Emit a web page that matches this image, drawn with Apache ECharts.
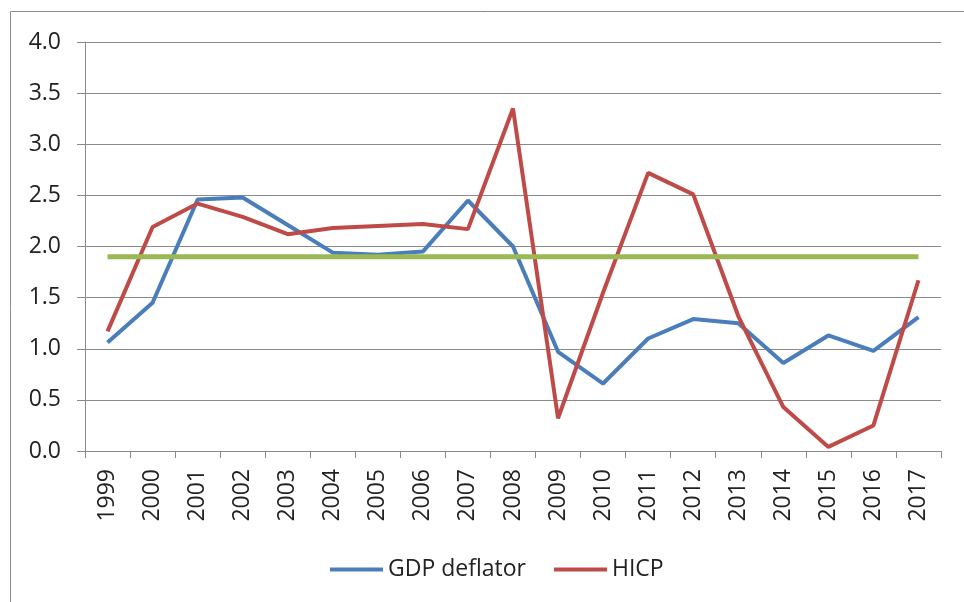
<!DOCTYPE html>
<html>
<head>
<meta charset="utf-8">
<script src="https://cdn.jsdelivr.net/npm/echarts@6/dist/echarts.min.js"></script>
<style>
  html, body { margin: 0; padding: 0; background: #fff; }
  #chart { width: 964px; height: 602px; }
</style>
</head>
<body>
<div id="chart"></div>
<script>
// Annual inflation measures, %
const years = ['1999','2000','2001','2002','2003','2004','2005','2006','2007','2008',
               '2009','2010','2011','2012','2013','2014','2015','2016','2017'];
const gdpDeflator = [1.06, 1.45, 2.46, 2.48, 2.21, 1.94, 1.92, 1.95, 2.45, 2.00,
                     0.97, 0.66, 1.10, 1.29, 1.25, 0.86, 1.13, 0.98, 1.31];
const hicp = [1.17, 2.19, 2.42, 2.29, 2.12, 2.18, 2.20, 2.22, 2.17, 3.35,
              0.32, 1.55, 2.72, 2.51, 1.32, 0.43, 0.04, 0.25, 1.67];
const targetLevel = 1.9;
const target = years.map(() => targetLevel);

const yTicks = { min: 0, max: 4, interval: 0.5 };

const axisGray = '#8a8a8a';
const labelFont = "'Open Sans', 'Noto Sans', sans-serif";

const chart = echarts.init(document.getElementById('chart'), null, { renderer: 'canvas' });

chart.setOption({
  animation: false,
  backgroundColor: '#ffffff',
  graphic: [{
    type: 'rect',
    shape: { x: 10.5, y: 11.5, width: 1000, height: 1000 },
    style: { fill: 'none', stroke: '#8c8c8c', lineWidth: 1 },
    silent: true
  }],
  grid: { left: 85, right: 23, top: 42, bottom: 151, containLabel: false },
  legend: {
    data: ['GDP deflator', 'HICP'],
    left: 325,
    top: 553,
    icon: 'rect',
    itemWidth: 53,
    itemHeight: 4,
    itemGap: 28,
    textStyle: {
      fontFamily: "'Liberation Sans Narrow', 'Open Sans', sans-serif",
      fontSize: 23,
      color: '#222'
    }
  },
  xAxis: {
    type: 'category',
    data: years,
    boundaryGap: true,
    axisLine: { lineStyle: { color: axisGray, width: 1 } },
    axisTick: { show: true, alignWithLabel: false, length: 7, lineStyle: { color: axisGray } },
    axisLabel: {
      rotate: 90,
      margin: 18,
      interval: 0,
      fontFamily: labelFont,
      fontSize: 23,
      color: '#222'
    },
    splitLine: { show: false }
  },
  yAxis: {
    type: 'value',
    min: yTicks.min,
    max: yTicks.max,
    interval: yTicks.interval,
    axisLine: { show: true, lineStyle: { color: axisGray, width: 1 } },
    axisTick: { show: true, length: 8, lineStyle: { color: axisGray } },
    axisLabel: {
      margin: 24,
      fontFamily: labelFont,
      fontSize: 23,
      color: '#222',
      formatter: v => v.toFixed(1)
    },
    splitLine: { show: true, lineStyle: { color: axisGray, width: 1 } }
  },
  series: [
    {
      name: 'GDP deflator',
      type: 'line',
      data: gdpDeflator,
      symbol: 'none',
      lineStyle: { color: '#4a7ebb', width: 4 },
      itemStyle: { color: '#4a7ebb' },
      z: 2
    },
    {
      name: 'HICP',
      type: 'line',
      data: hicp,
      symbol: 'none',
      lineStyle: { color: '#be4b48', width: 4 },
      itemStyle: { color: '#be4b48' },
      z: 3
    },
    {
      name: 'Target',
      type: 'line',
      data: target,
      symbol: 'none',
      lineStyle: { color: '#98b954', width: 5 },
      itemStyle: { color: '#98b954' },
      z: 4
    }
  ]
});
</script>
</body>
</html>
